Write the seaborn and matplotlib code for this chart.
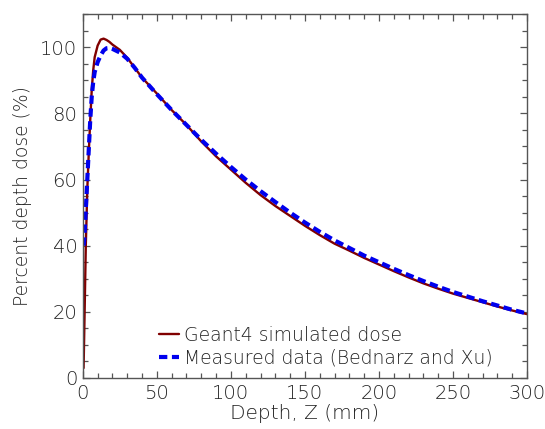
import numpy as np
import pandas as pd
import matplotlib
matplotlib.use("Agg")
import matplotlib.pyplot as plt
import seaborn as sns
from matplotlib.ticker import MultipleLocator

# ---- data ----
geant_depth = [0.5, 1, 2, 3, 4, 5, 6, 7, 8, 10, 12, 14, 16, 18, 20, 25, 30, 35, 40,
               50, 60, 70, 80, 90, 100, 110, 120, 130, 140, 150, 160, 170, 180, 190,
               200, 210, 220, 230, 240, 250, 260, 270, 280, 290, 300]
geant_dose = [3, 15, 40, 57, 68, 78, 87, 93, 97, 100.5, 102.3, 102.6, 102.2, 101.6, 100.8,
              99.2, 96.8, 93.8, 90.8, 86, 81, 76.5, 71.5, 67, 63, 59, 55.3, 52, 49, 46,
              43.2, 40.6, 38.5, 36.3, 34.3, 32.3, 30.4, 28.6, 27, 25.5, 24.2, 22.9, 21.6,
              20.4, 19.3]

meas_depth = [0.5, 1, 2, 3, 4, 5, 6, 7, 8, 10, 12, 14, 16, 18, 20, 25, 30, 35, 40,
              50, 60, 70, 80, 90, 100, 110, 120, 130, 140, 150, 160, 170, 180, 190,
              200, 210, 220, 230, 240, 250, 260, 270, 280, 290, 300]
meas_dose = [40, 42, 51, 60, 69, 78, 85, 89.5, 92.5, 95.5, 97.5, 99, 99.7, 99.8, 99.5,
             98.4, 96.5, 93.8, 90.8, 85.8, 81, 76.5, 72, 67.8, 63.8, 60, 56.5, 53.2, 50,
             47, 44.2, 41.6, 39.3, 37, 35, 33, 31.1, 29.3, 27.6, 26, 24.6, 23.2, 21.9,
             20.6, 19.5]

label_geant = "Geant4 simulated dose"
label_meas = "Measured data (Bednarz and Xu)"

sns.set_theme(style="white")
plt.rcParams['font.family'] = ['DejaVu Sans']
plt.rcParams['font.weight'] = 200

fig = plt.figure(figsize=(5.45, 4.29), dpi=100)
ax = fig.add_axes([0.152, 0.119, 0.815, 0.848])

sns.lineplot(x=geant_depth, y=geant_dose, ax=ax, color="#800000", lw=1.7,
             label=label_geant, sort=False)
sns.lineplot(x=meas_depth, y=meas_dose, ax=ax, color="#0000EE", lw=3.0,
             linestyle=(0, (2.0, 1.1)), label=label_meas, sort=False)

ax.set_xlim(0, 300)
ax.set_ylim(0, 110)
ax.xaxis.set_major_locator(MultipleLocator(50))
ax.xaxis.set_minor_locator(MultipleLocator(10))
ax.yaxis.set_major_locator(MultipleLocator(20))
ax.yaxis.set_minor_locator(MultipleLocator(5))

txt = "#222222"
ax.tick_params(which="both", direction="in", top=True, right=True,
               bottom=True, left=True, color="#555555", width=0.9)
ax.tick_params(which="major", length=5, labelsize=14, labelcolor=txt, pad=4)
ax.tick_params(which="minor", length=3.5)
for lbl in ax.get_xticklabels() + ax.get_yticklabels():
    lbl.set_fontweight(200)
for s in ax.spines.values():
    s.set_color("#555555")
    s.set_linewidth(1.0)

ax.set_xlabel("Depth, Z (mm)", fontsize=14.5, color=txt, labelpad=1, fontweight=200)
ax.set_ylabel("Percent depth dose (%)", fontsize=13.5, color=txt, labelpad=6,
              fontweight=200)

leg = ax.legend(loc="lower left", bbox_to_anchor=(0.15, 0.003), frameon=False,
                prop={"size": 13.5, "weight": 200}, handlelength=1.1, handletextpad=0.25,
                borderpad=0, labelspacing=0.2)
for t in leg.get_texts():
    t.set_color(txt)

fig.savefig("out.png", dpi=100)
